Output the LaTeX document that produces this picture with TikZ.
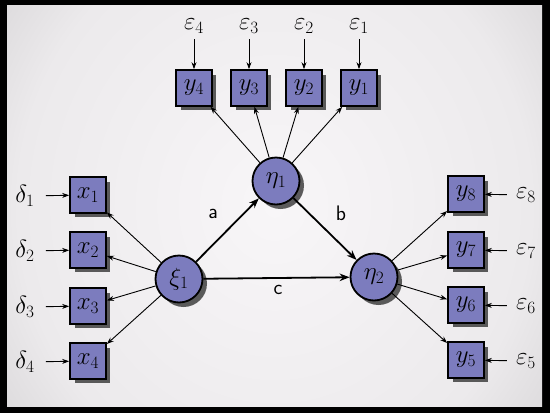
\documentclass[tikz,border=0pt]{standalone}
\usetikzlibrary{shadows,arrows.meta}
\definecolor{boxfill}{RGB}{124,124,190}
\definecolor{vigA}{RGB}{248,246,248}
\definecolor{vigB}{RGB}{236,234,236}
\definecolor{vigC}{RGB}{210,208,210}
\definecolor{vigD}{RGB}{160,158,160}
\definecolor{vigE}{RGB}{70,70,70}
\definecolor{vigF}{RGB}{25,25,25}
\pgfdeclareradialshading{vignette}{\pgfpoint{0bp}{0bp}}{color(0bp)=(vigA); color(24bp)=(vigB); color(36bp)=(vigC); color(44bp)=(vigD); color(50bp)=(vigE); color(62bp)=(vigF); color(75bp)=(vigF)}
\tikzset{
  shad/.style={drop shadow={shadow xshift=4.5pt, shadow yshift=-4.5pt, fill=black!75, opacity=0.85}},
  obs/.style={draw=black, line width=2.2pt, fill=boxfill, minimum size=35.5pt, inner sep=0pt, shad, font=\fontsize{26}{30}\selectfont},
  lat/.style={circle, draw=black, line width=1.8pt, fill=boxfill, minimum size=47pt, inner sep=0pt, shad, font=\fontsize{26}{30}\selectfont},
  errl/.style={inner sep=11pt, font=\fontsize{23}{26}\selectfont},
  errt/.style={inner sep=6pt, font=\fontsize{23}{26}\selectfont},
  errr/.style={inner sep=9pt, font=\fontsize{23}{26}\selectfont},
  load/.style={-{Stealth[length=7pt,width=5pt]}, line width=0.9pt},
  struc/.style={-{Stealth[length=10pt,width=7.5pt]}, line width=1.8pt},
  eff/.style={font=\sffamily\fontsize{21}{24}\selectfont, inner sep=0pt}
}
\begin{document}
\begin{tikzpicture}[x=1pt,y=-1pt]
\useasboundingbox (0,0) rectangle (550,413);
\fill[black] (0,0) rectangle (550,413);
\begin{scope}
  \clip (7,5) rectangle (542,406);
  \shade[shading=vignette] (7,-85) rectangle (542,496);
\end{scope}

% latent variables
\node[lat] (xi1) at (179,279) {$\xi_1$};
\node[lat] (eta1) at (276,181) {$\eta_1$};
\node[lat] (eta2) at (374,277) {$\eta_2$};

% x indicators
\node[obs] (x1) at (88,195) {$x_1$};
\node[obs] (x2) at (88,250) {$x_2$};
\node[obs] (x3) at (88,306) {$x_3$};
\node[obs] (x4) at (88,361) {$x_4$};

% y indicators top
\node[obs] (y4) at (194,88) {$y_4$};
\node[obs] (y3) at (249,88) {$y_3$};
\node[obs] (y2) at (304,88) {$y_2$};
\node[obs] (y1) at (359,88) {$y_1$};

% y indicators right
\node[obs] (y8) at (466,194) {$y_8$};
\node[obs] (y7) at (466,250) {$y_7$};
\node[obs] (y6) at (466,305) {$y_6$};
\node[obs] (y5) at (466,360) {$y_5$};

% error labels
\node[errl] (d1) at (25,196) {$\delta_1$};
\node[errl] (d2) at (25,251) {$\delta_2$};
\node[errl] (d3) at (25,307) {$\delta_3$};
\node[errl] (d4) at (25,362) {$\delta_4$};

\node[errt] (e4) at (194,26) {$\varepsilon_4$};
\node[errt] (e3) at (249,26) {$\varepsilon_3$};
\node[errt] (e2) at (304,26) {$\varepsilon_2$};
\node[errt] (e1) at (359,26) {$\varepsilon_1$};

\node[errr] (e8) at (526,195) {$\varepsilon_8$};
\node[errr] (e7) at (526,251) {$\varepsilon_7$};
\node[errr] (e6) at (526,306) {$\varepsilon_6$};
\node[errr] (e5) at (526,361) {$\varepsilon_5$};

% error arrows
\foreach \e/\b in {d1/x1,d2/x2,d3/x3,d4/x4,e4/y4,e3/y3,e2/y2,e1/y1,e8/y8,e7/y7,e6/y6,e5/y5}
  \draw[load] (\e) -- (\b);

% loadings
\foreach \b in {x1,x2,x3,x4} \draw[load] (xi1) -- (\b);
\foreach \b in {y1,y2,y3,y4} \draw[load] (eta1) -- (\b);
\foreach \b in {y5,y6,y7,y8} \draw[load] (eta2) -- (\b);

% structural paths
\draw[struc] (xi1) -- (eta1);
\draw[struc] (eta1) -- (eta2);
\draw[struc] (xi1) -- (eta2);

\node[eff] (la) at (213,214) {a};
\node[eff] (lb) at (341,213) {b};
\node[eff] (lc) at (278,290) {c};
\end{tikzpicture}
\end{document}
